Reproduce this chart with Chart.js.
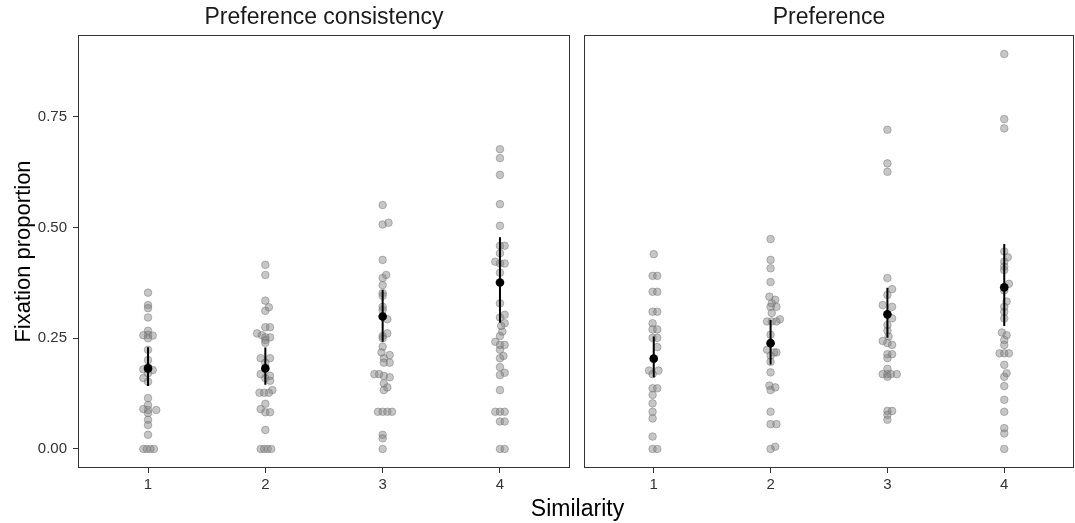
<!DOCTYPE html>
<html>
<head>
<meta charset="utf-8">
<script src="https://cdn.jsdelivr.net/npm/chart.js@4/dist/chart.umd.min.js"></script>
<style>
  body { margin: 0; background: #fff; }
  #wrap { position: relative; width: 1075px; height: 523px; font-family: "Liberation Sans", Arial, sans-serif; }
  canvas { position: absolute; top: 0; }
  #xtitle { position: absolute; left: 0; width: 1155px; top: 495px; text-align: center; font-size: 23px; color: #000; }
</style>
</head>
<body>
<div id="wrap">
  <canvas id="left-chart" width="575" height="523" style="left:0"></canvas>
  <canvas id="right-chart" width="500" height="523" style="left:579px"></canvas>
  <div id="xtitle">Similarity</div>
</div>
<script>
// panel titles and ticks
const panelTitles = ['Preference consistency', 'Preference']
const xTicks = [1, 2, 3, 4]
const yTicks = [0, 0.25, 0.5, 0.75]

// individual subjects, [jittered similarity, fixation proportion]
const consist1 = [[1.00,0.353],[1.00,0.325],[1.00,0.318],[1.00,0.297],[1.00,0.267],[0.96,0.257],[1.00,0.258],[1.04,0.256],[1.00,0.250],[1.00,0.224],[1.00,0.201],[1.00,0.185],[0.96,0.180],[1.00,0.180],[1.04,0.178],[1.00,0.171],[0.96,0.160],[1.00,0.152],[1.00,0.115],[1.00,0.099],[0.96,0.090],[1.00,0.088],[1.07,0.088],[1.00,0.081],[1.00,0.066],[1.00,0.054],[1.00,0.032],[0.96,0],[0.99,0],[1.02,0],[1.05,0]]
const consist2 = [[2.00,0.416],[2.00,0.393],[2.00,0.335],[2.03,0.320],[2.00,0.312],[2.00,0.275],[2.04,0.275],[1.93,0.261],[1.97,0.257],[2.04,0.252],[2.00,0.252],[2.00,0.246],[2.00,0.240],[1.96,0.205],[2.04,0.205],[2.00,0.195],[1.96,0.169],[2.04,0.165],[2.00,0.160],[2.04,0.154],[2.06,0.133],[1.95,0.127],[1.99,0.127],[2.03,0.127],[2.00,0.102],[1.96,0.090],[2.00,0.083],[2.04,0.083],[2.00,0.043],[1.96,0],[1.99,0],[2.02,0],[2.05,0]]
const consist3 = [[3.00,0.551],[3.00,0.507],[3.05,0.511],[3.00,0.427],[3.03,0.393],[3.00,0.386],[3.00,0.370],[3.00,0.352],[3.00,0.346],[3.00,0.321],[3.00,0.314],[3.04,0.293],[3.04,0.261],[3.00,0.255],[3.00,0.250],[3.00,0.231],[2.99,0.218],[3.06,0.212],[3.01,0.205],[3.01,0.195],[3.06,0.195],[2.93,0.169],[2.97,0.169],[3.01,0.165],[3.06,0.162],[3.01,0.148],[3.04,0.139],[3.01,0.133],[2.96,0.084],[3.00,0.084],[3.04,0.084],[3.08,0.084],[3.00,0.032],[3.00,0.024],[3.00,0]]
const consist4 = [[4.00,0.677],[4.00,0.657],[4.00,0.619],[4.00,0.553],[4.00,0.504],[4.00,0.459],[4.04,0.459],[4.00,0.442],[3.96,0.423],[4.00,0.419],[4.04,0.419],[4.00,0.398],[4.00,0.329],[4.04,0.303],[4.00,0.297],[4.04,0.284],[4.01,0.278],[4.02,0.265],[4.00,0.255],[3.96,0.242],[4.00,0.235],[4.04,0.235],[4.00,0.224],[4.03,0.210],[4.00,0.205],[4.00,0.185],[4.04,0.172],[4.00,0.167],[4.00,0.133],[3.96,0.084],[4.00,0.084],[4.04,0.084],[4.00,0.062],[4.04,0.062],[4.00,0],[4.04,0]]
const pref1 = [[1.00,0.440],[0.99,0.391],[1.03,0.391],[0.99,0.355],[1.03,0.355],[0.99,0.310],[1.03,0.310],[0.99,0.284],[0.99,0.270],[1.03,0.270],[0.99,0.251],[1.03,0.251],[1.03,0.230],[0.96,0.177],[1.04,0.177],[0.99,0.169],[0.99,0.137],[1.03,0.137],[0.99,0.122],[0.99,0.103],[0.99,0.084],[0.99,0.069],[0.99,0.028],[0.99,0],[1.03,0]]
const pref2 = [[2.00,0.474],[2.00,0.427],[2.00,0.408],[2.00,0.377],[1.99,0.344],[2.04,0.337],[2.01,0.329],[2.05,0.321],[2.00,0.321],[2.01,0.307],[2.08,0.293],[1.97,0.288],[2.01,0.288],[2.05,0.288],[2.00,0.258],[1.97,0.224],[2.03,0.218],[2.05,0.218],[2.00,0.211],[2.00,0.197],[2.00,0.173],[1.99,0.143],[2.04,0.139],[2.00,0.133],[2.00,0.084],[2.00,0.056],[2.05,0.056],[2.04,0.005],[2.00,0]]
const pref3 = [[3.00,0.721],[3.00,0.645],[3.00,0.626],[3.00,0.386],[3.04,0.361],[3.00,0.348],[2.96,0.325],[3.04,0.321],[3.04,0.295],[3.00,0.280],[3.00,0.267],[3.01,0.254],[2.96,0.244],[3.00,0.239],[3.04,0.235],[3.00,0.214],[3.04,0.214],[3.00,0.205],[3.00,0.181],[2.96,0.169],[3.00,0.169],[3.03,0.169],[3.08,0.169],[3.00,0.163],[3.00,0.086],[3.04,0.086],[3.00,0.077],[3.00,0.066]]
const pref4 = [[4.00,0.892],[4.00,0.745],[4.00,0.724],[4.00,0.446],[4.03,0.433],[4.00,0.423],[4.00,0.412],[4.00,0.404],[4.04,0.373],[4.00,0.358],[4.02,0.333],[4.00,0.321],[4.00,0.310],[4.00,0.295],[3.98,0.263],[4.02,0.257],[4.00,0.246],[4.00,0.235],[3.96,0.216],[4.00,0.216],[4.04,0.216],[4.00,0.190],[4.02,0.171],[4.00,0.163],[4.00,0.142],[4.00,0.111],[4.00,0.084],[4.00,0.047],[4.00,0.035],[4.00,0]]

// group means and error bars
const consistMean = [0.182, 0.182, 0.299, 0.376]
const consistLow = [0.142, 0.145, 0.242, 0.285]
const consistHigh = [0.230, 0.229, 0.359, 0.478]
const prefMean = [0.204, 0.239, 0.304, 0.365]
const prefLow = [0.162, 0.191, 0.251, 0.278]
const prefHigh = [0.254, 0.291, 0.364, 0.463]

const font = '"Liberation Sans", Arial, sans-serif'

// box round the panel plus the strip title centred over it
const panelBox = {
  id: 'panelBox',
  afterDraw(chart, args, opts) {
    const a = chart.chartArea
    const ctx = chart.ctx
    ctx.save()
    ctx.strokeStyle = '#333333'
    ctx.lineWidth = 1
    ctx.strokeRect(Math.round(a.left) + 0.5, Math.round(a.top) + 0.5, Math.round(a.right - a.left) - 1, Math.round(a.bottom - a.top) - 1)
    ctx.fillStyle = '#1a1a1a'
    ctx.font = '23px ' + font
    ctx.textAlign = 'center'
    ctx.textBaseline = 'middle'
    ctx.fillText(opts.text, (a.left + a.right) / 2, 18)
    ctx.restore()
  }
}

function makePanel(id, title, groups, mean, low, high, showY) {
  let points = []
  groups.forEach(function (g) {
    g.forEach(function (p) { points.push({ x: p[0], y: p[1] }) })
  })
  let bars = []
  for (let i = 0; i < xTicks.length; i++) {
    bars.push({ x: xTicks[i], y: low[i] })
    bars.push({ x: xTicks[i], y: high[i] })
    bars.push({ x: xTicks[i], y: null })
  }
  const means = mean.map(function (m, i) { return { x: xTicks[i], y: m } })

  return new Chart(document.getElementById(id), {
    type: 'scatter',
    data: {
      datasets: [{
        label: 'mean',
        data: means,
        pointRadius: 4.3,
        backgroundColor: '#000',
        borderColor: '#000',
        borderWidth: 0,
        order: 0
      }, {
        type: 'line',
        label: 'ci',
        data: bars,
        showLine: true,
        spanGaps: false,
        pointRadius: 0,
        borderColor: '#000',
        borderWidth: 2,
        order: 1
      }, {
        label: 'subjects',
        data: points,
        pointRadius: 3.8,
        backgroundColor: 'rgba(128, 128, 128, 0.45)',
        borderColor: 'rgba(110, 110, 110, 0.45)',
        borderWidth: 1,
        order: 2
      }]
    },
    options: {
      responsive: false,
      animation: false,
      devicePixelRatio: 1,
      layout: { padding: { left: 0, right: showY ? 5 : 0, top: 35, bottom: 0 } },
      plugins: {
        legend: { display: false },
        tooltip: { enabled: false },
        title: { display: false },
        panelBox: { text: title }
      },
      scales: {
        x: {
          type: 'linear',
          min: 0.403,
          max: 4.597,
          afterBuildTicks: function (s) { s.ticks = xTicks.map(function (v) { return { value: v } }) },
          afterFit: function (s) { s.height = 55 },
          ticks: {
            color: '#333333',
            font: { family: font, size: 15 },
            padding: 3,
            callback: function (v) { return String(v) }
          },
          grid: { drawOnChartArea: false, drawTicks: true, tickLength: 5, color: '#333333' },
          border: { display: false }
        },
        y: {
          display: showY,
          min: -0.043,
          max: 0.935,
          afterBuildTicks: function (s) { s.ticks = yTicks.map(function (v) { return { value: v } }) },
          afterFit: function (s) { s.width = showY ? 78 : 0 },
          ticks: {
            color: '#333333',
            font: { family: font, size: 15 },
            padding: 6,
            callback: function (v) { return Number(v).toFixed(2) }
          },
          grid: { drawOnChartArea: false, drawTicks: true, tickLength: 5, color: '#333333' },
          border: { display: false },
          title: {
            display: true,
            text: 'Fixation proportion',
            color: '#000',
            font: { family: font, size: 22, weight: 'normal' },
            padding: { top: 11, bottom: 0 }
          }
        }
      }
    },
    plugins: [panelBox]
  })
}

makePanel('left-chart', panelTitles[0], [consist1, consist2, consist3, consist4], consistMean, consistLow, consistHigh, true)
makePanel('right-chart', panelTitles[1], [pref1, pref2, pref3, pref4], prefMean, prefLow, prefHigh, false)
</script>
</body>
</html>
